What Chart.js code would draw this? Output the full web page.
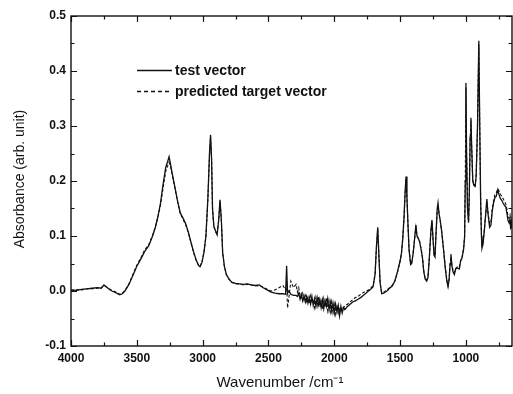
<!DOCTYPE html>
<html>
<head>
<meta charset="utf-8">
<script src="https://cdn.jsdelivr.net/npm/chart.js@4.4.1/dist/chart.umd.min.js"></script>
<style>
html,body{margin:0;padding:0;background:#fff;}
#wrap{width:513px;height:394px;}
</style>
</head>
<body>
<div id="wrap"><canvas id="c" width="513" height="394"></canvas></div>
<script>
const wavenumbers = [4000,3960,3920,3880,3840,3800,3770,3750,3735,3715,3690,3660,3630,3610,3590,3560,3530,3500,3470,3440,3410,3380,3360,3340,3320,3300,3280,3265,3255,3245,3230,3210,3190,3170,3150,3130,3110,3090,3070,3050,3030,3020,3005,2990,2975,2960,2948,2940,2932,2925,2915,2900,2890,2878,2868,2858,2848,2835,2820,2800,2780,2750,2720,2690,2660,2630,2600,2570,2540,2510,2480,2450,2420,2390,2370,2362,2355,2345,2330,2310,2290,2280,2270,2260,2250,2240,2230,2220,2210,2200,2190,2180,2170,2160,2150,2140,2130,2120,2110,2100,2090,2080,2070,2060,2050,2040,2030,2020,2010,2000,1990,1980,1970,1960,1950,1940,1930,1920,1900,1880,1860,1840,1820,1800,1780,1760,1740,1720,1705,1690,1680,1670,1662,1652,1640,1625,1600,1580,1560,1540,1520,1500,1490,1480,1470,1462,1455,1448,1440,1432,1420,1412,1400,1390,1380,1372,1362,1352,1340,1330,1320,1310,1298,1288,1278,1266,1258,1250,1242,1235,1228,1218,1212,1204,1195,1185,1170,1158,1145,1136,1128,1120,1114,1106,1098,1088,1078,1065,1050,1040,1030,1018,1010,1005,1000,995,988,980,974,968,962,956,948,940,930,922,912,902,895,888,882,878,870,860,850,841,832,820,810,800,790,780,770,758,748,738,728,718,705,697,688,680,672,665,660,655,650];

const testVector = [0.002,0.001,0.003,0.004,0.005,0.006,0.005,0.011,0.008,0.004,0.000,-0.003,-0.007,-0.005,0.000,0.012,0.028,0.045,0.058,0.072,0.082,0.100,0.115,0.135,0.160,0.195,0.225,0.236,0.244,0.232,0.212,0.188,0.163,0.142,0.133,0.123,0.108,0.090,0.072,0.057,0.046,0.044,0.052,0.070,0.100,0.170,0.250,0.284,0.240,0.150,0.118,0.108,0.102,0.130,0.166,0.130,0.070,0.045,0.030,0.022,0.016,0.014,0.013,0.012,0.013,0.011,0.010,0.011,0.006,0.002,-0.002,-0.004,-0.005,-0.005,-0.006,0.046,-0.004,0.000,-0.006,-0.008,-0.008,-0.010,-0.004,-0.015,-0.006,-0.018,-0.009,-0.020,-0.010,-0.022,-0.012,-0.024,-0.010,-0.026,-0.014,-0.028,-0.012,-0.025,-0.015,-0.030,-0.016,-0.032,-0.018,-0.028,-0.014,-0.034,-0.020,-0.036,-0.022,-0.040,-0.024,-0.038,-0.026,-0.045,-0.028,-0.040,-0.030,-0.034,-0.028,-0.024,-0.020,-0.018,-0.015,-0.012,-0.008,-0.004,0.000,0.004,0.008,0.030,0.080,0.116,0.070,0.015,-0.005,-0.004,0.000,0.005,0.009,0.018,0.035,0.055,0.068,0.095,0.135,0.180,0.208,0.170,0.120,0.075,0.048,0.050,0.070,0.095,0.120,0.100,0.096,0.090,0.075,0.060,0.035,0.022,0.018,0.025,0.060,0.110,0.129,0.095,0.065,0.062,0.100,0.150,0.160,0.140,0.128,0.110,0.075,0.044,0.018,0.008,0.020,0.050,0.067,0.045,0.035,0.030,0.040,0.042,0.040,0.055,0.060,0.075,0.098,0.200,0.378,0.250,0.150,0.124,0.180,0.280,0.315,0.260,0.200,0.192,0.190,0.210,0.300,0.455,0.300,0.160,0.100,0.078,0.085,0.110,0.140,0.167,0.140,0.116,0.120,0.145,0.160,0.170,0.172,0.184,0.175,0.168,0.165,0.160,0.155,0.153,0.140,0.128,0.124,0.130,0.112,0.125,0.115];

const predictedTargetVector = [0.001,0.002,0.002,0.004,0.004,0.005,0.006,0.010,0.008,0.005,0.001,-0.002,-0.006,-0.004,0.001,0.013,0.030,0.047,0.060,0.075,0.084,0.102,0.116,0.134,0.156,0.188,0.218,0.228,0.234,0.228,0.210,0.186,0.162,0.141,0.131,0.121,0.107,0.089,0.071,0.056,0.046,0.045,0.053,0.070,0.099,0.168,0.246,0.280,0.238,0.150,0.117,0.107,0.102,0.128,0.163,0.128,0.070,0.045,0.030,0.021,0.016,0.013,0.013,0.011,0.012,0.011,0.009,0.010,0.007,0.003,0.000,0.002,0.006,0.010,0.002,0.012,-0.031,-0.012,0.018,0.006,0.012,-0.002,0.006,-0.008,-0.012,-0.004,-0.016,-0.008,-0.019,-0.011,-0.023,-0.009,-0.022,-0.015,-0.030,-0.012,-0.027,-0.010,-0.029,-0.018,-0.033,-0.014,-0.030,-0.012,-0.035,-0.018,-0.038,-0.020,-0.039,-0.024,-0.042,-0.026,-0.040,-0.030,-0.036,-0.032,-0.030,-0.027,-0.024,-0.020,-0.016,-0.012,-0.010,-0.006,-0.003,0.000,0.002,0.006,0.010,0.032,0.078,0.112,0.070,0.016,-0.003,-0.002,0.002,0.006,0.010,0.018,0.034,0.054,0.068,0.094,0.133,0.176,0.204,0.168,0.120,0.076,0.050,0.052,0.071,0.094,0.116,0.102,0.095,0.090,0.076,0.061,0.036,0.023,0.020,0.027,0.060,0.108,0.126,0.096,0.067,0.064,0.098,0.146,0.156,0.140,0.127,0.110,0.076,0.046,0.020,0.010,0.022,0.048,0.062,0.046,0.037,0.033,0.041,0.044,0.043,0.055,0.061,0.077,0.100,0.195,0.370,0.248,0.152,0.126,0.178,0.275,0.310,0.258,0.202,0.194,0.192,0.212,0.296,0.448,0.298,0.162,0.104,0.084,0.090,0.112,0.138,0.162,0.142,0.122,0.126,0.150,0.164,0.175,0.178,0.186,0.182,0.176,0.172,0.168,0.162,0.158,0.148,0.136,0.132,0.138,0.128,0.120,0.124];

const xTickLabels = [4000,3500,3000,2500,2000,1500,1000];
const xMinorTicks = [3750,3250,2750,2250,1750,1250,750];
const yTickLabels = [-0.1,0.0,0.1,0.2,0.3,0.4,0.5];
const yMinorTicks = [-0.05,0.05,0.15,0.25,0.35,0.45];
const seriesNames = ['test vector','predicted target vector'];

const FONT = '"Liberation Sans", Arial, Helvetica, sans-serif';
const INK = '#111';

function pts(vals){ return wavenumbers.map((w,i)=>({x:w,y:vals[i]})); }

const framePlugin = {
  id:'frame',
  afterDraw(chart){
    const {ctx, chartArea:a, scales:{x,y}} = chart;
    ctx.save();
    ctx.strokeStyle = INK; ctx.lineWidth = 1.4;
    ctx.strokeRect(a.left, a.top, a.right-a.left, a.bottom-a.top);
    ctx.lineWidth = 1.2;
    ctx.beginPath();
    const tick = (vals, len) => {
      vals.forEach(v=>{
        const px = Math.round(x.getPixelForValue(v))+0.5;
        ctx.moveTo(px, a.bottom); ctx.lineTo(px, a.bottom-len);
        ctx.moveTo(px, a.top); ctx.lineTo(px, a.top+len);
      });
    };
    const tickY = (vals, len) => {
      vals.forEach(v=>{
        const py = Math.round(y.getPixelForValue(v))+0.5;
        ctx.moveTo(a.left, py); ctx.lineTo(a.left+len, py);
        ctx.moveTo(a.right, py); ctx.lineTo(a.right-len, py);
      });
    };
    tick(xTickLabels, 6); tick(xMinorTicks, 3.5);
    tickY(yTickLabels, 6); tickY(yMinorTicks, 3.5);
    ctx.stroke();

    // legend
    ctx.lineWidth = 1.3;
    ctx.beginPath(); ctx.setLineDash([]);
    ctx.moveTo(137, 70.5); ctx.lineTo(172, 70.5); ctx.stroke();
    ctx.beginPath(); ctx.setLineDash([4,3]);
    ctx.moveTo(137, 91.5); ctx.lineTo(172, 91.5); ctx.stroke();
    ctx.setLineDash([]);
    ctx.fillStyle = INK;
    ctx.font = 'bold 14px ' + FONT;
    ctx.textBaseline = 'middle'; ctx.textAlign = 'left';
    ctx.fillText(seriesNames[0], 175, 71);
    ctx.fillText(seriesNames[1], 175, 92);

    // axis titles
    ctx.font = '15px ' + FONT;
    ctx.textAlign = 'center';
    ctx.fillText('Wavenumber /cm\u207B\u00B9', 280, 383);
    ctx.font = '14px ' + FONT;
    ctx.save();
    ctx.translate(20, 179);
    ctx.rotate(-Math.PI/2);
    ctx.fillText('Absorbance (arb. unit)', 0, 0);
    ctx.restore();
    ctx.restore();
  }
};

new Chart(document.getElementById('c'), {
  type:'line',
  data:{
    datasets:[
      {label:seriesNames[0], data:pts(testVector), borderColor:INK, borderWidth:1.3, pointRadius:0, tension:0, fill:false},
      {label:seriesNames[1], data:pts(predictedTargetVector), borderColor:INK, borderWidth:1.1, borderDash:[3,2], pointRadius:0, tension:0, fill:false}
    ]
  },
  options:{
    responsive:false, animation:false, devicePixelRatio:1,
    layout:{padding:{top:16, right:1, left:0, bottom:0}},
    plugins:{legend:{display:false}, tooltip:{enabled:false}},
    scales:{
      x:{
        type:'linear', reverse:true, min:650, max:4000,
        afterBuildTicks(s){ s.ticks = xTickLabels.map(v=>({value:v})); },
        afterFit(s){ s.height = 48; },
        grid:{display:false, drawTicks:false}, border:{display:false},
        ticks:{color:INK, font:{family:FONT, size:12, weight:'bold'}, padding:5, maxRotation:0, autoSkip:false, callback:v=>String(v)}
      },
      y:{
        type:'linear', min:-0.1, max:0.5,
        afterBuildTicks(s){ s.ticks = yTickLabels.map(v=>({value:v})); },
        afterFit(s){ s.width = 71; },
        grid:{display:false, drawTicks:false}, border:{display:false},
        ticks:{color:INK, font:{family:FONT, size:12, weight:'bold'}, padding:5, autoSkip:false, callback:v=>v.toFixed(1)}
      }
    }
  },
  plugins:[framePlugin]
});
</script>
</body>
</html>
